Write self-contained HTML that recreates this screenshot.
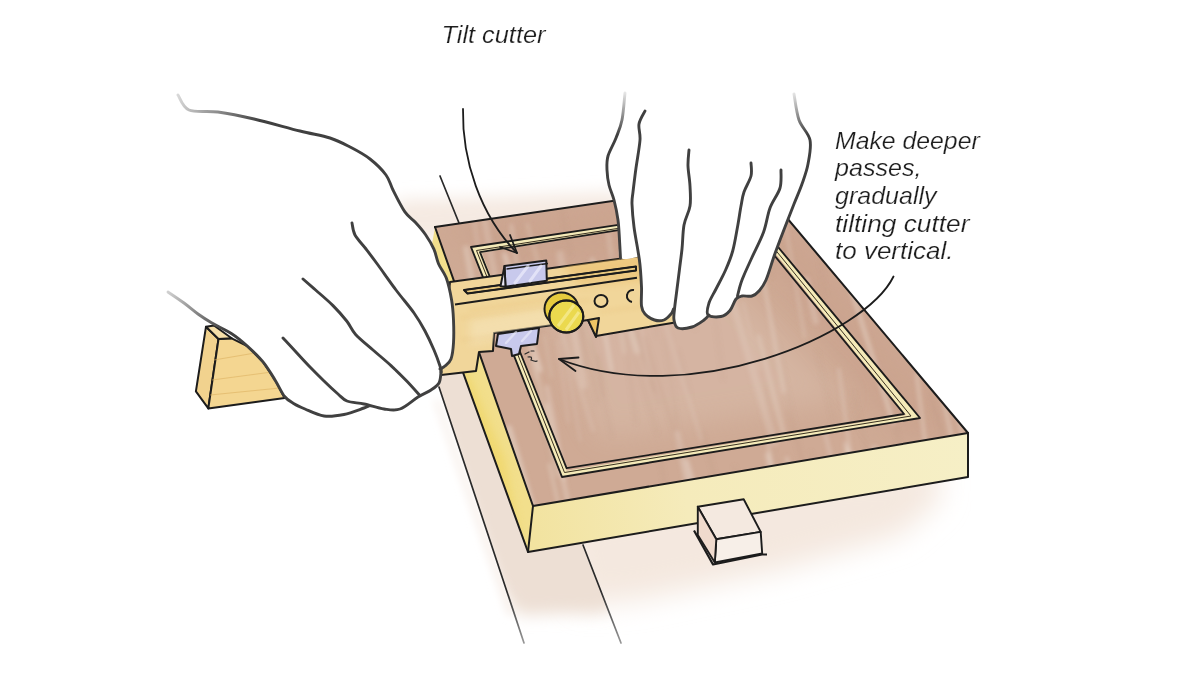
<!DOCTYPE html>
<html><head><meta charset="utf-8">
<style>
html,body{margin:0;padding:0;background:#fff;width:1200px;height:675px;overflow:hidden}
svg{display:block}
.t{font-family:"Liberation Sans",sans-serif;font-style:italic;fill:#1e1e1e;font-size:23.6px;stroke:#fff;stroke-width:0.2px;paint-order:fill stroke}
</style></head><body>
<svg width="1200" height="675" viewBox="0 0 1200 675">
<defs>
<filter id="b14" x="-50%" y="-50%" width="200%" height="200%"><feGaussianBlur stdDeviation="14"/></filter>
<filter id="b8" x="-50%" y="-50%" width="200%" height="200%"><feGaussianBlur stdDeviation="8"/></filter>
<filter id="b4" x="-50%" y="-50%" width="200%" height="200%"><feGaussianBlur stdDeviation="4"/></filter>
<filter id="b2" x="-50%" y="-50%" width="200%" height="200%"><feGaussianBlur stdDeviation="2"/></filter>
<clipPath id="topclip"><polygon points="435,227 755,180 968,433 533,506"/></clipPath>
<clipPath id="stripclip"><polygon points="437,175 621,644 524,644 439,387 400,270 400,175"/></clipPath>
</defs>
<rect width="1200" height="675" fill="#fff"/>

<!-- WASH -->
<g id="wash">
<!-- above back edge -->
<polygon filter="url(#b8)" fill="#f5eae2" points="395,200 520,196 615,192 630,215 620,240 440,240 400,240"/>
<!-- under front, right of line 2 -->
<polygon filter="url(#b14)" fill="#f4e8df" points="560,520 760,480 940,465 940,500 900,535 780,570 640,600 580,605"/>
<!-- between line1 and line2 -->
<g clip-path="url(#stripclip)">
<polygon filter="url(#b8)" fill="#eddfd4" points="390,250 470,250 600,520 625,600 600,612 520,615 470,560 390,330"/>
</g>
<polygon filter="url(#b4)" fill="#f7eee8" points="434,400 439,400 516,615 508,615"/>
</g>

<!-- table lines -->
<defs><linearGradient id="tl1" gradientUnits="userSpaceOnUse" x1="0" y1="590" x2="0" y2="644"><stop offset="0" stop-color="#2a2a2a"/><stop offset="1" stop-color="#9a9a9a"/></linearGradient><linearGradient id="tl2" gradientUnits="userSpaceOnUse" x1="0" y1="590" x2="0" y2="644"><stop offset="0" stop-color="#2a2a2a"/><stop offset="1" stop-color="#9a9a9a"/></linearGradient></defs>
<g stroke="#2a2a2a" stroke-width="1.7" fill="none" stroke-linecap="round">
<path d="M440,176 L459,223"/>
<path stroke="url(#tl2)" d="M583,545 L621,643"/>
<path stroke="url(#tl1)" d="M439,387 L524,643"/>
</g>

<!-- FRAME -->
<!-- left face -->
<polygon fill="#f2df8c" points="435,227 533,506 528,552 427,273"/>
<clipPath id="lfclip"><polygon points="435,227 533,506 528,552 427,273"/></clipPath>
<g clip-path="url(#lfclip)"><polygon filter="url(#b4)" fill="#efd45e" opacity="0.6" points="445,320 505,460 520,540 500,520 440,350"/></g>
<!-- front face -->
<defs><linearGradient id="ffg" gradientUnits="userSpaceOnUse" x1="533" y1="520" x2="968" y2="450"><stop offset="0" stop-color="#f2e3a0"/><stop offset="0.35" stop-color="#f5ebbb"/><stop offset="1" stop-color="#f6efc6"/></linearGradient></defs>
<polygon fill="url(#ffg)" points="533,506 968,433 968,477 528,552"/>
<!-- top face -->
<polygon fill="#cfaa95" points="435,227 755,180 968,433 533,506"/>
<g clip-path="url(#topclip)">
<polygon fill="#c79f8a" opacity="0.5" filter="url(#b14)" points="435,227 755,180 968,433 900,440 760,250 520,270"/>
<polygon fill="#dcc2b1" opacity="0.45" filter="url(#b14)" points="540,300 720,270 850,400 600,440"/>
<g filter="url(#b2)" fill="none" stroke-linecap="round">
<path d="M608.4,233.7 L624.3,351.9" stroke="#e2cdbf" stroke-width="4.7" opacity="0.37"/>
<path d="M703.9,200.9 L716.2,292.9" stroke="#e2cdbf" stroke-width="2.0" opacity="0.68"/>
<path d="M504.4,254.7 L540.1,370.0" stroke="#e2cdbf" stroke-width="5.0" opacity="0.74"/>
<path d="M464.2,439.0 L475.4,513.7" stroke="#e2cdbf" stroke-width="2.2" opacity="0.68"/>
<path d="M534.0,358.7 L556.7,475.3" stroke="#e2cdbf" stroke-width="4.8" opacity="0.37"/>
<path d="M547.1,387.3 L563.8,478.6" stroke="#e2cdbf" stroke-width="5.0" opacity="0.47"/>
<path d="M853.1,392.7 L869.4,462.0" stroke="#bf9883" stroke-width="1.2" opacity="0.42"/>
<path d="M949.7,224.2 L974.2,314.4" stroke="#e2cdbf" stroke-width="2.4" opacity="0.37"/>
<path d="M787.5,411.7 L819.6,520.5" stroke="#bf9883" stroke-width="1.7" opacity="0.38"/>
<path d="M677.2,433.6 L710.2,587.0" stroke="#e2cdbf" stroke-width="5.5" opacity="0.63"/>
<path d="M776.5,478.0 L801.0,616.6" stroke="#bf9883" stroke-width="1.5" opacity="0.21"/>
<path d="M527.4,224.0 L540.3,271.0" stroke="#e2cdbf" stroke-width="2.3" opacity="0.51"/>
<path d="M893.1,213.4 L914.7,307.3" stroke="#bf9883" stroke-width="1.2" opacity="0.46"/>
<path d="M656.0,294.0 L701.5,440.1" stroke="#e2cdbf" stroke-width="2.4" opacity="0.44"/>
<path d="M561.3,330.6 L580.4,441.3" stroke="#e2cdbf" stroke-width="1.5" opacity="0.50"/>
<path d="M734.5,466.4 L761.9,589.3" stroke="#bf9883" stroke-width="2.1" opacity="0.22"/>
<path d="M845.6,443.6 L872.5,579.4" stroke="#e2cdbf" stroke-width="3.9" opacity="0.60"/>
<path d="M472.4,209.5 L482.3,274.6" stroke="#e2cdbf" stroke-width="3.5" opacity="0.35"/>
<path d="M518.7,219.4 L529.1,303.1" stroke="#bf9883" stroke-width="1.2" opacity="0.24"/>
<path d="M620.6,295.6 L636.5,350.3" stroke="#e2cdbf" stroke-width="7.5" opacity="0.54"/>
<path d="M484.7,219.6 L498.7,300.8" stroke="#e2cdbf" stroke-width="6.5" opacity="0.36"/>
<path d="M934.5,343.2 L947.7,400.8" stroke="#e2cdbf" stroke-width="1.7" opacity="0.74"/>
<path d="M888.9,391.9 L902.7,463.2" stroke="#bf9883" stroke-width="2.0" opacity="0.36"/>
<path d="M611.4,254.7 L655.0,392.1" stroke="#bf9883" stroke-width="1.9" opacity="0.45"/>
<path d="M557.9,340.1 L568.3,422.8" stroke="#e2cdbf" stroke-width="1.7" opacity="0.45"/>
<path d="M800.1,467.4 L828.9,561.1" stroke="#bf9883" stroke-width="1.1" opacity="0.31"/>
<path d="M558.0,247.0 L573.8,311.6" stroke="#bf9883" stroke-width="1.8" opacity="0.34"/>
<path d="M855.8,214.6 L891.8,333.9" stroke="#bf9883" stroke-width="1.1" opacity="0.34"/>
<path d="M850.4,286.4 L893.1,422.5" stroke="#e2cdbf" stroke-width="3.9" opacity="0.73"/>
<path d="M816.9,239.3 L825.2,294.5" stroke="#bf9883" stroke-width="2.0" opacity="0.24"/>
<path d="M949.8,380.6 L968.6,462.7" stroke="#e2cdbf" stroke-width="2.3" opacity="0.74"/>
<path d="M777.8,342.7 L809.3,494.7" stroke="#bf9883" stroke-width="1.2" opacity="0.26"/>
<path d="M592.3,259.8 L611.3,370.1" stroke="#e2cdbf" stroke-width="4.0" opacity="0.71"/>
<path d="M624.0,322.9 L657.1,432.9" stroke="#bf9883" stroke-width="1.6" opacity="0.35"/>
<path d="M712.2,195.4 L726.8,288.2" stroke="#bf9883" stroke-width="1.5" opacity="0.25"/>
<path d="M817.1,351.4 L834.8,430.5" stroke="#bf9883" stroke-width="1.6" opacity="0.23"/>
<path d="M569.2,270.3 L598.6,403.0" stroke="#bf9883" stroke-width="1.5" opacity="0.47"/>
<path d="M758.5,336.6 L784.7,438.1" stroke="#e2cdbf" stroke-width="4.2" opacity="0.54"/>
<path d="M929.6,392.8 L974.4,538.0" stroke="#bf9883" stroke-width="2.1" opacity="0.48"/>
<path d="M511.3,225.3 L523.8,318.3" stroke="#e2cdbf" stroke-width="2.9" opacity="0.62"/>
<path d="M847.6,450.1 L863.1,508.7" stroke="#e2cdbf" stroke-width="5.5" opacity="0.70"/>
<path d="M943.1,253.7 L973.9,408.0" stroke="#bf9883" stroke-width="1.0" opacity="0.45"/>
<path d="M664.4,339.5 L677.2,420.2" stroke="#bf9883" stroke-width="1.6" opacity="0.21"/>
<path d="M669.0,195.2 L688.6,275.0" stroke="#e2cdbf" stroke-width="4.6" opacity="0.74"/>
<path d="M849.9,471.8 L859.0,524.4" stroke="#bf9883" stroke-width="1.0" opacity="0.28"/>
<path d="M659.6,454.3 L683.3,592.6" stroke="#bf9883" stroke-width="1.9" opacity="0.37"/>
<path d="M486.5,206.7 L511.7,329.3" stroke="#bf9883" stroke-width="2.0" opacity="0.39"/>
<path d="M483.5,438.3 L497.6,486.3" stroke="#e2cdbf" stroke-width="4.2" opacity="0.57"/>
<path d="M921.9,267.7 L934.4,323.2" stroke="#e2cdbf" stroke-width="2.9" opacity="0.41"/>
<path d="M466.2,248.5 L480.2,326.0" stroke="#e2cdbf" stroke-width="6.1" opacity="0.55"/>
<path d="M532.5,290.6 L539.7,332.8" stroke="#bf9883" stroke-width="1.1" opacity="0.37"/>
<path d="M686.9,461.0 L701.8,513.8" stroke="#e2cdbf" stroke-width="4.1" opacity="0.68"/>
<path d="M644.4,336.9 L683.2,459.5" stroke="#bf9883" stroke-width="1.8" opacity="0.41"/>
<path d="M650.4,290.8 L657.2,337.3" stroke="#bf9883" stroke-width="1.0" opacity="0.28"/>
<path d="M483.9,434.0 L520.6,578.4" stroke="#e2cdbf" stroke-width="3.2" opacity="0.47"/>
<path d="M678.9,235.7 L695.1,329.2" stroke="#bf9883" stroke-width="1.2" opacity="0.36"/>
<path d="M942.1,279.8 L952.1,362.6" stroke="#e2cdbf" stroke-width="3.8" opacity="0.55"/>
<path d="M544.5,336.4 L551.5,377.0" stroke="#e2cdbf" stroke-width="2.0" opacity="0.37"/>
<path d="M451.7,278.2 L467.8,346.2" stroke="#bf9883" stroke-width="1.9" opacity="0.40"/>
<path d="M897.1,303.0 L922.2,382.1" stroke="#bf9883" stroke-width="0.9" opacity="0.39"/>
<path d="M874.4,448.7 L905.1,563.9" stroke="#e2cdbf" stroke-width="6.4" opacity="0.56"/>
<path d="M702.3,432.1 L741.2,568.7" stroke="#bf9883" stroke-width="1.8" opacity="0.40"/>
<path d="M559.6,199.0 L570.3,255.0" stroke="#bf9883" stroke-width="1.7" opacity="0.37"/>
<path d="M765.6,387.4 L777.5,486.1" stroke="#bf9883" stroke-width="1.6" opacity="0.35"/>
<path d="M782.8,209.2 L804.7,337.6" stroke="#e2cdbf" stroke-width="1.9" opacity="0.64"/>
<path d="M546.7,404.6 L581.1,561.6" stroke="#e2cdbf" stroke-width="3.8" opacity="0.62"/>
<path d="M838.8,368.9 L854.7,486.1" stroke="#e2cdbf" stroke-width="2.4" opacity="0.65"/>
<path d="M598.3,354.7 L603.8,396.1" stroke="#bf9883" stroke-width="1.8" opacity="0.41"/>
<path d="M591.2,339.8 L611.7,435.6" stroke="#bf9883" stroke-width="2.3" opacity="0.26"/>
<path d="M926.9,195.1 L953.9,290.2" stroke="#e2cdbf" stroke-width="7.3" opacity="0.46"/>
<path d="M549.1,464.2 L564.5,529.5" stroke="#e2cdbf" stroke-width="2.4" opacity="0.73"/>
<path d="M509.0,427.9 L539.0,528.9" stroke="#e2cdbf" stroke-width="5.7" opacity="0.71"/>
<path d="M692.8,197.2 L701.6,237.6" stroke="#e2cdbf" stroke-width="4.2" opacity="0.41"/>
<path d="M618.9,281.7 L635.8,422.5" stroke="#bf9883" stroke-width="2.2" opacity="0.24"/>
<path d="M810.8,451.5 L825.3,526.2" stroke="#bf9883" stroke-width="1.3" opacity="0.38"/>
<path d="M662.6,269.8 L669.0,315.6" stroke="#e2cdbf" stroke-width="6.5" opacity="0.72"/>
<path d="M569.6,267.1 L585.7,368.4" stroke="#bf9883" stroke-width="2.0" opacity="0.47"/>
<path d="M768.1,454.9 L803.2,607.8" stroke="#e2cdbf" stroke-width="5.8" opacity="0.64"/>
<path d="M674.4,408.3 L695.2,525.6" stroke="#bf9883" stroke-width="1.5" opacity="0.24"/>
<path d="M618.7,276.4 L659.3,405.0" stroke="#bf9883" stroke-width="1.6" opacity="0.29"/>
<path d="M645.1,238.5 L654.7,297.9" stroke="#e2cdbf" stroke-width="6.9" opacity="0.44"/>
<path d="M911.3,479.0 L925.2,573.0" stroke="#e2cdbf" stroke-width="2.7" opacity="0.49"/>
<path d="M487.4,259.3 L504.0,330.3" stroke="#bf9883" stroke-width="1.4" opacity="0.32"/>
<path d="M712.6,299.3 L723.2,379.9" stroke="#bf9883" stroke-width="1.6" opacity="0.24"/>
<path d="M767.4,440.2 L778.9,506.1" stroke="#e2cdbf" stroke-width="3.0" opacity="0.53"/>
<path d="M936.1,436.1 L954.1,580.9" stroke="#bf9883" stroke-width="1.5" opacity="0.47"/>
<path d="M745.3,190.1 L771.9,277.0" stroke="#bf9883" stroke-width="1.2" opacity="0.49"/>
<path d="M496.7,234.8 L523.0,337.5" stroke="#bf9883" stroke-width="1.9" opacity="0.39"/>
<path d="M677.8,349.9 L690.2,394.7" stroke="#bf9883" stroke-width="1.3" opacity="0.39"/>
<path d="M506.5,263.0 L536.8,379.4" stroke="#e2cdbf" stroke-width="2.2" opacity="0.56"/>
<path d="M743.1,302.5 L759.2,369.4" stroke="#e2cdbf" stroke-width="1.6" opacity="0.53"/>
<path d="M938.6,376.9 L970.1,523.0" stroke="#e2cdbf" stroke-width="2.9" opacity="0.73"/>
<path d="M806.4,279.1 L815.8,321.8" stroke="#e2cdbf" stroke-width="5.5" opacity="0.45"/>
<path d="M787.0,458.3 L795.5,525.5" stroke="#e2cdbf" stroke-width="3.5" opacity="0.62"/>
<path d="M543.0,421.1 L571.4,549.8" stroke="#bf9883" stroke-width="2.0" opacity="0.29"/>
<path d="M560.0,254.2 L583.5,385.5" stroke="#e2cdbf" stroke-width="7.2" opacity="0.42"/>
<path d="M556.1,310.9 L593.2,430.8" stroke="#e2cdbf" stroke-width="2.4" opacity="0.44"/>
<path d="M946.5,231.2 L952.6,277.4" stroke="#bf9883" stroke-width="1.9" opacity="0.47"/>
<path d="M958.7,460.2 L971.2,539.7" stroke="#bf9883" stroke-width="1.8" opacity="0.21"/>
<path d="M636.9,298.4 L649.2,378.2" stroke="#e2cdbf" stroke-width="1.5" opacity="0.49"/>
<path d="M936.9,225.9 L962.0,381.6" stroke="#bf9883" stroke-width="1.4" opacity="0.45"/>
<path d="M465.6,327.3 L491.4,412.0" stroke="#e2cdbf" stroke-width="2.7" opacity="0.71"/>
<path d="M455.7,309.1 L493.3,446.6" stroke="#e2cdbf" stroke-width="1.7" opacity="0.38"/>
<path d="M918.4,264.5 L957.3,394.2" stroke="#e2cdbf" stroke-width="3.5" opacity="0.73"/>
<path d="M760.8,266.0 L783.9,392.0" stroke="#e2cdbf" stroke-width="3.2" opacity="0.65"/>
<path d="M916.6,373.9 L935.7,527.0" stroke="#e2cdbf" stroke-width="2.9" opacity="0.73"/>
<path d="M936.0,302.1 L950.5,372.2" stroke="#bf9883" stroke-width="2.0" opacity="0.25"/>
<path d="M824.0,428.6 L856.1,561.3" stroke="#e2cdbf" stroke-width="3.5" opacity="0.49"/>
<path d="M846.8,212.9 L864.0,276.6" stroke="#e2cdbf" stroke-width="3.0" opacity="0.36"/>
<path d="M727.3,284.5 L774.1,442.1" stroke="#e2cdbf" stroke-width="7.4" opacity="0.38"/>
</g>
</g>
<!-- groove band -->
<path fill="#f4eab8" fill-rule="evenodd" d="M471,247 L744,206 L920,418 L562,477 Z M481.7,252.8 L740,210 L906,415 L566.6,470.7 Z"/>

<g stroke="#1c1c1c" stroke-width="2" fill="none" stroke-linejoin="round" stroke-linecap="round">
<path d="M435,227 L755,180 L968,433"/>
<path d="M435,227 L533,506 L968,433"/>
<path d="M533,506 L528,552 L968,477 L968,433"/>
<path d="M427,273 L528,552"/>
<!-- groove lines -->
<path d="M744,206 L471,247 L562,477 L920,418 L744,206" stroke-width="1.9"/>
<path d="M738,211 L480,252.2 L566.6,468.2 L904,414 L738,211" stroke-width="1.8"/>
<path d="M742,209 L476.5,250.5 L564.5,472.5 L911,416 L742,209" stroke-width="1" stroke="#3a3020"/>
</g>

<!-- STOP BLOCK -->
<g stroke="#1c1c1c" stroke-width="1.9" stroke-linejoin="round">
<polygon fill="#f4e9e0" points="697.8,506.7 743.7,499.3 760.7,531.9 716.3,539.3"/>
<polygon fill="#f7efe8" points="716.3,539.3 760.7,531.9 762.2,553.5 714.8,562.5"/>
<polygon fill="#efdacd" points="697.8,506.7 716.3,539.3 714.8,562.5 697.8,535"/>
<path fill="none" stroke-width="2.2" d="M694,530.5 L713,564.5 L762,554.5 L767,554.5"/>
</g>

<!-- WEDGE -->
<g stroke="#1c1c1c" stroke-width="2" stroke-linejoin="round">
<polygon fill="#f1d28e" points="206,326.7 195.9,391.3 208.3,408.4 218.5,339"/>
<polygon fill="#f4d691" points="218.5,339 231.7,338.3 247.3,346.1 262.8,361.7 275.3,380.4 284.6,398 208.3,408.4"/>
<polygon fill="#f6dfa8" points="206,326.7 214,325.5 231.7,338.3 218.5,339"/>
</g>
<g stroke="#dcb060" stroke-width="1.2" fill="none" opacity="0.6">
<path d="M214,360 L255,353 M212,380 L272,372 M210,395 L280,388"/>
</g>
<!-- TOOL BODY -->
<g stroke="#1c1c1c" stroke-width="2" stroke-linejoin="round">
<polygon fill="#f1d69a" points="450,282 640,256 700,250 700,318 672,323 596,336 588,320 546,326 494,333 493,351 479,352 476,371 441,375 445,330"/>
<clipPath id="toolclip"><polygon points="450,282 640,256 700,250 700,318 672,323 596,336 588,320 546,326 494,333 493,351 479,352 476,371 441,375 445,330"/></clipPath>
<g clip-path="url(#toolclip)" stroke="none">
<polygon filter="url(#b4)" fill="#eab860" opacity="0.45" points="560,262 650,250 650,280 580,285"/>
<polygon filter="url(#b4)" fill="#f6e6c0" opacity="0.5" points="470,320 560,305 560,325 470,345"/>
<g filter="url(#b2)" stroke="#e2b468" stroke-width="1.2" fill="none" opacity="0.5">
<path d="M460,318 L590,300 M462,340 L545,330 M470,310 L560,298 M600,312 L660,304"/>
</g>
</g>
<polygon fill="#ebc97e" points="464,290 636,266.5 636,270.5 467.5,293.5"/>
<path fill="none" stroke-width="1.6" d="M464,290 L636,266.5 M464,290 L467.5,293.5 L636,270.5"/>
<path fill="none" d="M455,304.4 L637,277.8"/>
<polygon fill="#efc464" points="588,320 596,337 599,318"/>
<ellipse cx="601" cy="301" rx="6.5" ry="6" fill="none"/>
<path fill="none" d="M634,290 A6,6 0 0 0 632,302"/>
</g>

<!-- BLADES -->
<g stroke="#1c1c1c" stroke-width="2" stroke-linejoin="round">
<polygon fill="#c8c9ec" points="504.5,266 546.3,260.6 546.8,280.7 505.5,286.8"/>
<path fill="none" stroke-width="1.4" d="M506.5,269 L548,263.5"/>
<polygon fill="#e6e4f4" points="500.5,286.3 504.5,266 505.5,286.8"/>
<g stroke="#f4f4ff" stroke-width="3" opacity="0.6" fill="none" stroke-linecap="round"><path d="M515,283 L528,266 M530,281 L541,266"/></g>
<polygon fill="#c8c9ec" points="498,334 539,328 537,344 521,346 519,354 512,356 511,349 496,346"/>
<g stroke="#f0f0fc" stroke-width="2.5" opacity="0.55" fill="none" stroke-linecap="round"><path d="M506,343 L516,332 M522,341 L531,331"/></g>
</g>
<!-- chips -->
<g stroke="#2a2a2a" stroke-width="1.2" fill="none" stroke-linecap="round">
<path d="M525,354 L529,352 M531,351 L534,351 M528,357 Q533,356 531,360 Q536,362 537,361"/>
</g>

<!-- KNOB -->
<g stroke="#1c1c1c" stroke-width="2">
<ellipse cx="561.5" cy="309" rx="17" ry="16.5" fill="#e6cb3e"/>
<ellipse cx="566.3" cy="316.5" rx="17" ry="16" fill="#ebd94e"/>
<path stroke="#f6ec9a" stroke-width="3" opacity="0.7" fill="none" d="M558,326 L574,305 M566,330 L579,312"/>
<ellipse cx="566.3" cy="316.5" rx="17" ry="16" fill="none"/>
</g>

<!-- LEFT HAND -->
<defs>
<linearGradient id="lhfade" gradientUnits="userSpaceOnUse" x1="178" y1="95" x2="260" y2="120"><stop offset="0" stop-color="#d8d8d8"/><stop offset="1" stop-color="#404040"/></linearGradient>
<linearGradient id="lhfade2" gradientUnits="userSpaceOnUse" x1="168" y1="292" x2="225" y2="330"><stop offset="0" stop-color="#d0d0d0"/><stop offset="1" stop-color="#404040"/></linearGradient>
<linearGradient id="rhfade1" gradientUnits="userSpaceOnUse" x1="625" y1="90" x2="619" y2="135"><stop offset="0" stop-color="#f0f0f0"/><stop offset="1" stop-color="#404040"/></linearGradient>
<linearGradient id="rhfade2" gradientUnits="userSpaceOnUse" x1="794" y1="90" x2="806" y2="135"><stop offset="0" stop-color="#f0f0f0"/><stop offset="1" stop-color="#404040"/></linearGradient>
</defs>
<path fill="#fff" d="M178.0,95.0 C179.8,97.5 182.3,107.2 189.0,110.0 C195.7,112.8 207.2,110.5 218.0,112.0 C228.8,113.5 240.3,115.8 254.0,119.0 C267.7,122.2 287.3,127.8 300.0,131.0 C312.7,134.2 321.7,135.3 330.0,138.0 C338.3,140.7 343.3,143.5 350.0,147.0 C356.7,150.5 364.0,154.3 370.0,159.0 C376.0,163.7 382.2,169.8 386.0,175.0 C389.8,180.2 389.9,183.8 393.0,190.0 C396.1,196.2 401.2,206.5 404.9,211.9 C408.6,217.3 411.9,218.4 415.3,222.2 C418.8,226.0 422.5,230.2 425.6,234.7 C428.7,239.2 431.8,244.4 433.9,249.2 C436.0,254.0 436.4,258.8 438.5,263.7 C440.6,268.6 444.2,272.2 446.4,278.3 C448.6,284.4 450.4,293.1 451.6,300.0 C452.8,306.9 453.2,312.8 453.5,320.0 C453.8,327.2 453.9,336.5 453.5,343.0 C453.1,349.5 452.4,355.2 451.0,359.0 C449.6,362.8 446.8,364.3 445.0,366.0 C443.2,367.7 440.7,368.0 440.0,369.0 C439.3,370.0 441.2,369.7 441.0,372.0 C440.8,374.3 440.7,380.0 439.0,383.0 C437.3,386.0 434.5,387.7 431.0,390.0 C427.5,392.3 423.2,393.8 418.0,397.0 C412.8,400.2 405.7,407.0 400.0,409.0 C394.3,411.0 390.0,409.8 384.0,409.0 C378.0,408.2 367.3,404.2 364.0,404.0 C360.7,403.8 367.3,406.2 364.0,408.0 C360.7,409.8 350.7,413.2 344.0,414.5 C337.3,415.8 330.5,416.9 324.0,416.0 C317.5,415.1 310.0,411.1 305.0,409.0 C300.0,406.9 297.4,405.8 294.0,403.7 C290.6,401.6 287.7,400.4 284.6,396.5 C281.5,392.6 278.9,386.2 275.3,380.4 C271.7,374.6 267.5,367.4 262.8,361.7 C258.1,356.0 252.5,350.8 247.3,346.1 C242.1,341.4 237.7,337.6 231.7,333.7 C225.7,329.8 217.1,326.1 211.5,322.8 C205.9,319.5 205.2,319.1 198.0,314.0 C190.8,308.9 177.7,311.0 168.0,292.0 C158.3,273.0 144.7,215.3 140.0,200.0Z"/>
<g stroke="#404040" stroke-width="2.9" fill="none" stroke-linecap="round" stroke-linejoin="round">
<path stroke="url(#lhfade)" d="M178.0,95.0 C179.8,97.5 182.3,107.2 189.0,110.0 C195.7,112.8 207.2,110.5 218.0,112.0 C228.8,113.5 240.3,115.8 254.0,119.0 C267.7,122.2 287.3,127.8 300.0,131.0 C312.7,134.2 321.7,135.3 330.0,138.0 C338.3,140.7 343.3,143.5 350.0,147.0 C356.7,150.5 364.0,154.3 370.0,159.0 C376.0,163.7 382.2,169.8 386.0,175.0 C389.8,180.2 389.9,183.8 393.0,190.0 C396.1,196.2 401.2,206.5 404.9,211.9 C408.6,217.3 411.9,218.4 415.3,222.2 C418.8,226.0 422.5,230.2 425.6,234.7 C428.7,239.2 431.8,244.4 433.9,249.2 C436.0,254.0 436.4,258.8 438.5,263.7 C440.6,268.6 444.2,272.2 446.4,278.3 C448.6,284.4 450.4,293.1 451.6,300.0 C452.8,306.9 453.2,312.8 453.5,320.0 C453.8,327.2 453.9,336.5 453.5,343.0 C453.1,349.5 452.4,355.2 451.0,359.0 C449.6,362.8 446.8,364.3 445.0,366.0 C443.2,367.7 440.8,368.5 440.0,369.0"/>
<path d="M283.0,338.0 C285.2,340.3 291.7,347.3 296.0,352.0 C300.3,356.7 304.3,361.2 309.0,366.0 C313.7,370.8 319.2,376.3 324.0,381.0 C328.8,385.7 334.2,390.7 338.0,394.0 C341.8,397.3 342.7,399.3 347.0,401.0 C351.3,402.7 357.8,402.7 364.0,404.0 C370.2,405.3 378.0,408.2 384.0,409.0 C390.0,409.8 394.3,411.0 400.0,409.0 C405.7,407.0 412.8,400.2 418.0,397.0 C423.2,393.8 427.5,392.3 431.0,390.0 C434.5,387.7 437.3,386.0 439.0,383.0 C440.7,380.0 440.7,373.8 441.0,372.0"/>
<path stroke="url(#lhfade2)" d="M168.0,292.0 C170.7,293.8 179.0,299.3 184.0,303.0 C189.0,306.7 193.4,310.7 198.0,314.0 C202.6,317.3 205.9,319.5 211.5,322.8 C217.1,326.1 225.7,329.8 231.7,333.7 C237.7,337.6 242.1,341.4 247.3,346.1 C252.5,350.8 258.1,356.0 262.8,361.7 C267.5,367.4 271.7,374.6 275.3,380.4 C278.9,386.2 281.5,392.6 284.6,396.5 C287.7,400.4 290.6,401.6 294.0,403.7 C297.4,405.8 300.0,406.9 305.0,409.0 C310.0,411.1 317.5,415.1 324.0,416.0 C330.5,416.9 337.3,415.8 344.0,414.5 C350.7,413.2 359.8,409.4 364.0,408.0 C368.2,406.6 368.2,406.3 369.0,406.0"/>
<path d="M303.0,279.0 C305.1,280.8 310.6,285.6 315.6,290.0 C320.6,294.4 327.8,300.4 333.0,305.6 C338.2,310.8 342.9,316.2 346.7,321.0 C350.5,325.8 351.2,329.6 355.6,334.4 C360.0,339.2 367.1,344.8 373.0,350.0 C378.9,355.2 385.4,360.4 391.0,365.6 C396.6,370.8 401.9,376.0 406.7,381.0 C411.5,386.0 417.8,393.2 420.0,395.6"/>
<path d="M352.0,223.0 C352.5,225.0 352.7,230.7 355.0,235.0 C357.3,239.3 362.2,244.0 366.0,249.0 C369.8,254.0 373.0,258.2 378.0,265.0 C383.0,271.8 390.0,282.0 396.0,290.0 C402.0,298.0 409.2,306.2 414.0,313.0 C418.8,319.8 421.7,324.8 425.0,331.0 C428.3,337.2 431.5,344.2 434.0,350.0 C436.5,355.8 438.8,362.3 440.0,366.0 C441.2,369.7 440.8,371.0 441.0,372.0"/>
</g>

<!-- RIGHT HAND -->
<path fill="#fff" d="M625.0,93.0 C624.5,97.5 623.5,112.5 622.0,120.0 C620.5,127.5 618.3,132.0 616.0,138.0 C613.7,144.0 609.5,150.7 608.0,156.0 C606.5,161.3 606.8,165.2 607.0,170.0 C607.2,174.8 607.8,180.0 609.0,185.0 C610.2,190.0 612.5,194.2 614.0,200.0 C615.5,205.8 617.1,213.3 618.0,220.0 C618.9,226.7 619.1,233.7 619.5,240.0 C619.9,246.3 617.1,255.3 620.5,258.0 C623.9,260.7 637.1,257.2 640.0,256.0 C642.9,254.8 638.0,249.5 638.0,251.0 C638.0,252.5 639.4,259.0 640.0,265.0 C640.6,271.0 641.2,280.2 641.5,287.0 C641.8,293.8 640.9,301.5 641.5,306.0 C642.1,310.5 642.8,311.7 645.0,314.0 C647.2,316.3 651.3,319.0 654.5,320.0 C657.7,321.0 661.2,321.0 664.0,320.0 C666.8,319.0 669.4,315.8 671.0,314.0 C672.6,312.2 673.0,308.0 673.5,309.0 C674.0,310.0 673.2,316.8 674.0,320.0 C674.8,323.2 675.0,326.8 678.0,328.0 C681.0,329.2 687.7,328.3 692.0,327.0 C696.3,325.7 701.2,322.0 704.0,320.0 C706.8,318.0 706.2,315.6 709.0,315.0 C711.8,314.4 717.5,317.2 721.0,316.5 C724.5,315.8 727.5,313.4 730.0,310.5 C732.5,307.6 734.0,301.4 736.0,299.0 C738.0,296.6 739.3,296.5 742.0,296.0 C744.7,295.5 749.2,296.8 752.0,296.0 C754.8,295.2 756.7,293.7 759.0,291.0 C761.3,288.3 763.3,286.2 766.0,280.0 C768.7,273.8 771.8,262.3 775.0,253.5 C778.2,244.7 781.8,235.2 785.0,227.0 C788.2,218.8 791.2,211.2 794.0,204.0 C796.8,196.8 799.7,190.7 802.0,184.0 C804.3,177.3 806.7,171.3 808.0,164.0 C809.3,156.7 811.5,147.3 810.0,140.0 C808.5,132.7 801.7,127.7 799.0,120.0 C796.3,112.3 794.8,98.3 794.0,94.0Z"/>
<g stroke="#404040" stroke-width="2.9" fill="none" stroke-linecap="round" stroke-linejoin="round">
<path stroke="url(#rhfade1)" d="M625.0,93.0 C624.5,97.5 623.5,112.5 622.0,120.0 C620.5,127.5 618.3,132.0 616.0,138.0 C613.7,144.0 609.5,150.7 608.0,156.0 C606.5,161.3 606.8,165.2 607.0,170.0 C607.2,174.8 607.8,180.0 609.0,185.0 C610.2,190.0 612.5,194.2 614.0,200.0 C615.5,205.8 617.1,213.3 618.0,220.0 C618.9,226.7 619.1,233.7 619.5,240.0 C619.9,246.3 620.3,255.0 620.5,258.0"/>
<path d="M645.0,111.0 C644.0,113.2 639.8,119.2 639.0,124.0 C638.2,128.8 640.5,132.7 640.0,140.0 C639.5,147.3 637.2,159.3 636.0,168.0 C634.8,176.7 633.7,186.0 633.0,192.0 C632.3,198.0 631.8,198.2 632.0,204.0 C632.2,209.8 633.0,219.2 634.0,227.0 C635.0,234.8 637.0,244.7 638.0,251.0 C639.0,257.3 639.4,259.0 640.0,265.0 C640.6,271.0 641.2,280.2 641.5,287.0 C641.8,293.8 640.9,301.5 641.5,306.0 C642.1,310.5 642.8,311.7 645.0,314.0 C647.2,316.3 651.3,319.0 654.5,320.0 C657.7,321.0 661.2,321.0 664.0,320.0 C666.8,319.0 669.4,315.8 671.0,314.0 C672.6,312.2 673.1,309.8 673.5,309.0"/>
<path d="M689.0,150.0 C688.8,152.7 687.8,160.0 688.0,166.0 C688.2,172.0 689.7,179.3 690.0,186.0 C690.3,192.7 691.0,199.5 690.0,206.0 C689.0,212.5 685.3,217.8 684.0,225.0 C682.7,232.2 682.8,241.5 682.0,249.0 C681.2,256.5 680.2,263.3 679.4,270.0 C678.6,276.7 677.8,282.5 677.0,289.0 C676.2,295.5 675.0,303.8 674.5,309.0 C674.0,314.2 673.4,316.8 674.0,320.0 C674.6,323.2 675.0,326.8 678.0,328.0 C681.0,329.2 687.7,328.3 692.0,327.0 C696.3,325.7 701.2,322.0 704.0,320.0 C706.8,318.0 708.2,315.8 709.0,315.0"/>
<path stroke="url(#rhfade2)" d="M751.0,163.0 C751.0,165.2 752.2,171.2 751.0,176.0 C749.8,180.8 745.7,187.0 744.0,192.0 C742.3,197.0 742.1,200.2 741.0,206.0 C739.9,211.8 738.9,219.5 737.5,227.0 C736.1,234.5 734.7,243.8 732.7,251.0 C730.7,258.2 728.4,263.7 725.6,270.0 C722.8,276.3 718.8,283.5 716.0,289.0 C713.2,294.5 710.3,298.7 709.0,303.0 C707.7,307.3 706.0,312.8 708.0,315.0 C710.0,317.2 717.3,317.2 721.0,316.5 C724.7,315.8 727.5,313.4 730.0,310.5 C732.5,307.6 734.0,301.4 736.0,299.0 C738.0,296.6 739.3,296.5 742.0,296.0 C744.7,295.5 749.2,296.8 752.0,296.0 C754.8,295.2 756.7,293.7 759.0,291.0 C761.3,288.3 763.3,286.2 766.0,280.0 C768.7,273.8 771.8,262.3 775.0,253.5 C778.2,244.7 781.8,235.2 785.0,227.0 C788.2,218.8 791.2,211.2 794.0,204.0 C796.8,196.8 799.7,190.7 802.0,184.0 C804.3,177.3 806.7,171.3 808.0,164.0 C809.3,156.7 811.5,147.3 810.0,140.0 C808.5,132.7 801.7,127.7 799.0,120.0 C796.3,112.3 794.8,98.3 794.0,94.0"/>
<path d="M781.0,170.0 C780.8,173.0 781.8,181.7 780.0,188.0 C778.2,194.3 772.7,200.7 770.0,208.0 C767.3,215.3 766.6,223.7 763.6,232.0 C760.6,240.3 755.3,250.0 751.7,258.0 C748.1,266.0 744.4,273.7 742.0,280.0 C739.6,286.3 738.2,293.3 737.5,296.0"/>
</g>

<!-- ARROWS -->
<g stroke="#1c1c1c" stroke-width="1.8" fill="none" stroke-linecap="round" stroke-linejoin="round">
<path d="M463,109 C462,160 480,215 517,253"/>
<path d="M510,235 L517,253 L500,247"/>
<path d="M893.5,276.5 C865,335 690,410 559,359"/>
<path d="M578.5,357.5 L559,359 L575.5,371"/>
</g>

<!-- labels -->
<text class="t" x="441.5" y="43" textLength="104" lengthAdjust="spacingAndGlyphs">Tilt cutter</text>
<text class="t" x="835" y="148.7" textLength="144.7" lengthAdjust="spacingAndGlyphs">Make deeper</text>
<text class="t" x="835" y="176.3" textLength="86.5" lengthAdjust="spacingAndGlyphs">passes,</text>
<text class="t" x="835" y="204" textLength="101.6" lengthAdjust="spacingAndGlyphs">gradually</text>
<text class="t" x="835" y="231.6" textLength="134.5" lengthAdjust="spacingAndGlyphs">tilting cutter</text>
<text class="t" x="835" y="259.2" textLength="118.5" lengthAdjust="spacingAndGlyphs">to vertical.</text>
</svg>
</body></html>
